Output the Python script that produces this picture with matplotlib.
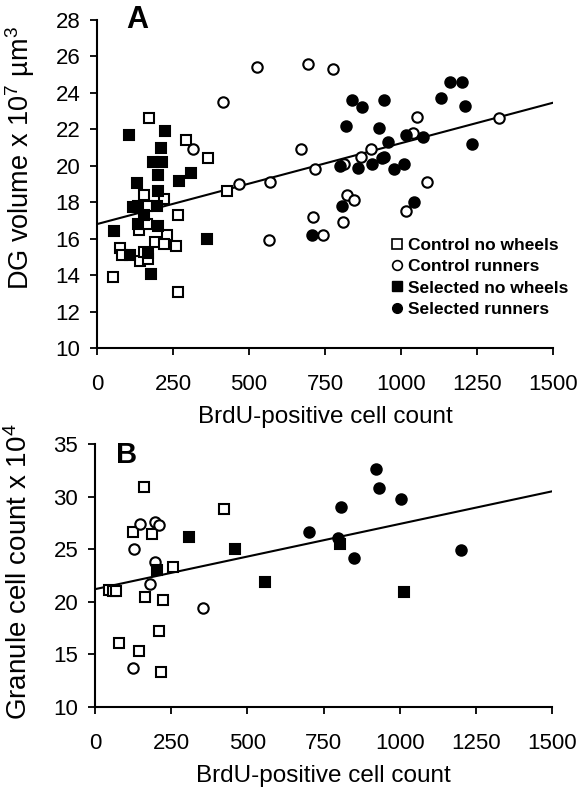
import numpy as np
import matplotlib
matplotlib.use("Agg")
import matplotlib.pyplot as plt
from matplotlib.lines import Line2D

plt.rcParams["font.family"] = ["Liberation Sans", "DejaVu Sans"]
plt.rcParams["mathtext.fontset"] = "custom"
plt.rcParams["mathtext.rm"] = "Liberation Sans"
plt.rcParams["mathtext.it"] = "Liberation Sans"

# panel A: BrdU count vs DG volume
a_cnw_x = [170, 293, 364, 429, 153, 221, 166, 267, 139, 164, 230, 190, 221, 259, 75, 81, 142, 168, 153, 51, 268]
a_cnw_y = [22.6, 21.4, 20.4, 18.6, 18.4, 18.2, 17.8, 17.3, 16.5, 16.8, 16.2, 15.8, 15.7, 15.6, 15.5, 15.1, 14.8, 14.9, 15.25, 13.9, 13.1]

a_cr_x = [416, 316, 467, 569, 565, 527, 694, 775, 670, 718, 812, 869, 902, 1052, 1039, 1085, 1324, 823, 845, 709, 808, 744, 1017]
a_cr_y = [23.5, 20.9, 19.0, 19.1, 15.9, 25.4, 25.6, 25.3, 20.9, 19.8, 20.1, 20.5, 20.9, 22.7, 21.8, 19.1, 22.6, 18.4, 18.1, 17.2, 16.9, 16.2, 17.5]

a_snw_x = [106, 224, 212, 183, 213, 201, 308, 270, 131, 201, 117, 134, 197, 155, 136, 201, 57, 363, 109, 168, 177]
a_snw_y = [21.7, 21.9, 21.0, 20.2, 20.2, 19.5, 19.6, 19.15, 19.05, 18.6, 17.75, 17.8, 17.8, 17.3, 16.8, 16.7, 16.4, 16.0, 15.1, 15.2, 14.05]

a_sr_x = [1160, 1201, 1132, 1209, 840, 873, 943, 818, 928, 1015, 1072, 956, 1233, 943, 938, 799, 858, 906, 978, 1011, 1044, 807, 708]
a_sr_y = [24.6, 24.6, 23.7, 23.3, 23.6, 23.2, 23.6, 22.2, 22.1, 21.7, 21.6, 21.3, 21.2, 20.5, 20.4, 20.0, 19.9, 20.1, 19.8, 20.1, 18.0, 17.8, 16.2]

a_fit = (16.8, 0.00444)  # intercept, slope

# panel B: BrdU count vs granule cell count
b_cnw_x = [161, 423, 126, 188, 255, 47, 60, 69, 164, 224, 210, 80, 145, 215]
b_cnw_y = [30.9, 28.8, 26.6, 26.4, 23.3, 21.1, 21.0, 21.0, 20.5, 20.2, 17.2, 16.1, 15.3, 13.3]

b_cr_x = [148, 197, 210, 129, 197, 180, 355, 125]
b_cr_y = [27.4, 27.6, 27.3, 25.0, 23.8, 21.7, 19.4, 13.7]

b_snw_x = [310, 459, 205, 558, 804, 1014]
b_snw_y = [26.2, 25.05, 23.05, 21.9, 25.5, 20.9]

b_sr_x = [922, 933, 1003, 807, 703, 799, 851, 1200]
b_sr_y = [32.6, 30.8, 29.8, 29.0, 26.6, 26.1, 24.2, 24.95]

b_fit = (21.2, 0.0062)

groups = ["Control no wheels", "Control runners", "Selected no wheels", "Selected runners"]
x_ticks = [0, 250, 500, 750, 1000, 1250, 1500]


def style_axes(ax, height_px):
    for side in ["top", "right"]:
        ax.spines[side].set_visible(False)
    for side in ["left", "bottom"]:
        ax.spines[side].set_linewidth(1.5)
    ax.tick_params(direction="out", length=5, width=1.3, labelsize=16)
    ax.tick_params(axis="x", pad=14)
    ax.tick_params(axis="y", pad=7)
    ax.set_xlim(0, 1500)
    ax.set_xticks(x_ticks)
    ax.set_xlabel("BrdU-positive cell count", fontsize=17.5)
    ax.xaxis.set_label_coords(0.5, -58 / height_px)


def draw_points(ax, sets, ms):
    markers = ["s", "o", "s", "o"]
    faces = ["white", "white", "black", "black"]
    for (x, y), m, f in zip(sets, markers, faces):
        ax.plot(x, y, linestyle="none", marker=m, markersize=ms if m == "o" else ms + 0.4,
                markerfacecolor=f, markeredgecolor="black", markeredgewidth=1.5, zorder=3)


def draw_fit(ax, fit):
    xs = np.array([0, 1500])
    ax.plot(xs, fit[0] + fit[1] * xs, color="black", linewidth=1.5, zorder=2)


fig = plt.figure(figsize=(5.84, 7.92), dpi=100)

a_h = 328
ax_a = fig.add_axes([97 / 584, 1 - 348 / 792, 456 / 584, a_h / 792])
style_axes(ax_a, a_h)
ax_a.set_ylim(10, 28)
ax_a.set_yticks(range(10, 29, 2))
ax_a.set_ylabel("DG volume x 10$^7$ µm$^3$", fontsize=19.5)
ax_a.yaxis.set_label_coords(-0.132, 0.58)
draw_fit(ax_a, a_fit)
draw_points(ax_a, [(a_cnw_x, a_cnw_y), (a_cr_x, a_cr_y), (a_snw_x, a_snw_y), (a_sr_x, a_sr_y)], 7.5)
ax_a.text(0.065, 1.045, "A", transform=ax_a.transAxes, fontsize=22, fontweight="bold", va="top")

handles = [
    Line2D([], [], linestyle="none", marker="s", markersize=7.5, markerfacecolor="white", markeredgecolor="black", markeredgewidth=1.2),
    Line2D([], [], linestyle="none", marker="o", markersize=7, markerfacecolor="white", markeredgecolor="black", markeredgewidth=1.2),
    Line2D([], [], linestyle="none", marker="s", markersize=7.5, markerfacecolor="black", markeredgecolor="black"),
    Line2D([], [], linestyle="none", marker="o", markersize=7, markerfacecolor="black", markeredgecolor="black"),
]
ax_a.legend(handles, groups, loc="upper left", bbox_to_anchor=(385 / 584, 1 - 231 / 792),
            bbox_transform=fig.transFigure, frameon=False, handlelength=0.6, handletextpad=0.35,
            labelspacing=0.35, borderaxespad=0, prop={"weight": "bold", "size": 12.5})

b_h = 263
ax_b = fig.add_axes([95 / 584, 1 - 707 / 792, 457 / 584, b_h / 792])
style_axes(ax_b, b_h)
ax_b.set_ylim(10, 35)
ax_b.set_yticks(range(10, 36, 5))
ax_b.set_ylabel("Granule cell count x 10$^4$", fontsize=20)
ax_b.yaxis.set_label_coords(-0.135, 0.515)
draw_fit(ax_b, b_fit)
draw_points(ax_b, [(b_cnw_x, b_cnw_y), (b_cr_x, b_cr_y), (b_snw_x, b_snw_y), (b_sr_x, b_sr_y)], 7.5)
ax_b.text(0.047, 1.01, "B", transform=ax_b.transAxes, fontsize=21, fontweight="bold", va="top")

fig.savefig("out.png", dpi=100)
